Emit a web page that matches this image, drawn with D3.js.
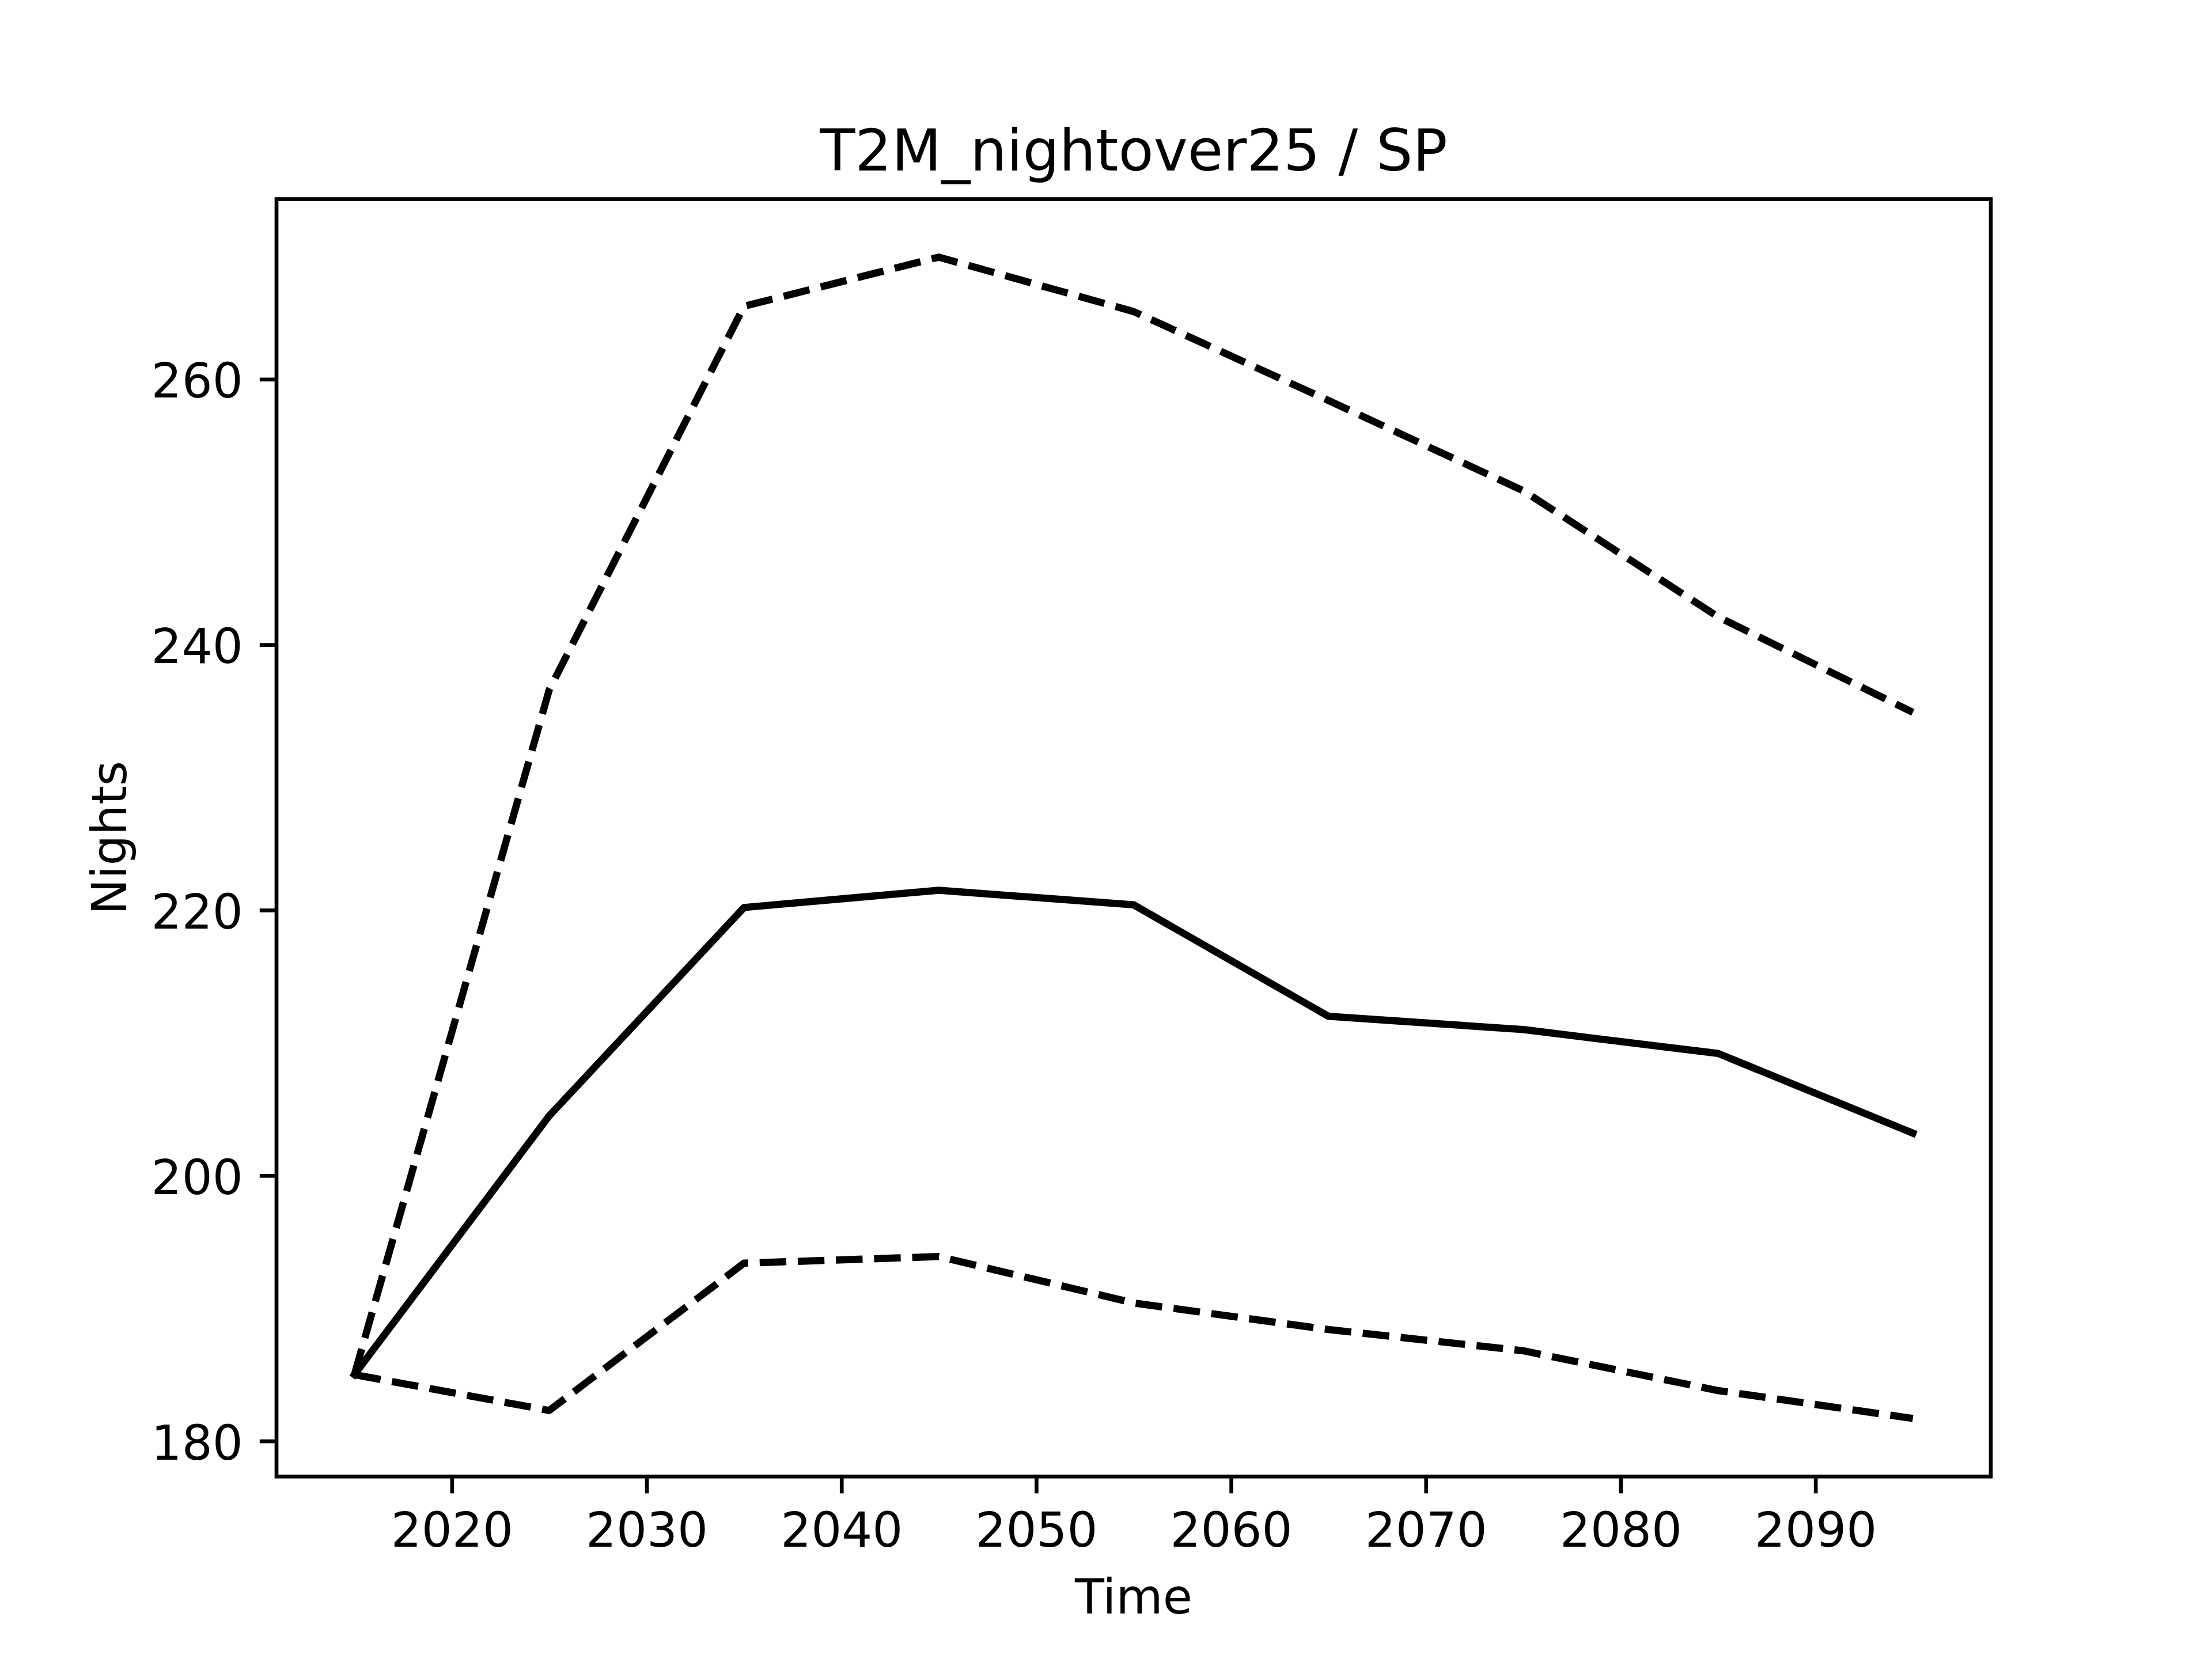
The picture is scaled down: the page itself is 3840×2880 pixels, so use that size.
<!DOCTYPE html>
<html>
<head>
<meta charset="utf-8">
<script src="https://cdn.jsdelivr.net/npm/d3@7"></script>
<style>
  html, body { margin: 0; padding: 0; background: #fff; }
  svg { display: block; }
  text { font-family: "DejaVu Sans", sans-serif; fill: #000; }
</style>
</head>
<body>
<script>
// ---- data ----
const years = [2015, 2025, 2035, 2045, 2055, 2065, 2075, 2085, 2095];
const meanValues  = [185.0, 204.5, 220.2, 221.5, 220.4, 212.0, 211.0, 209.2, 203.2];
const upperValues = [185.0, 236.6, 265.5, 269.2, 265.1, 258.4, 251.6, 242.1, 234.9];
const lowerValues = [185.0, 182.3, 193.4, 193.9, 190.4, 188.4, 186.8, 183.8, 181.7];
const xTicks = [2020, 2030, 2040, 2050, 2060, 2070, 2080, 2090];
const yTicks = [180, 200, 220, 240, 260];
const titleText = "T2M_nightover25 / SP";
const xLabelText = "Time";
const yLabelText = "Nights";

// ---- layout (matplotlib default figure 6.4x4.8 @ 600 dpi) ----
const W = 3840, H = 2880;
const pt = 600 / 72;
const axLeft = 0.125 * W, axRight = 0.9 * W;
const axTop = (1 - 0.88) * H, axBottom = (1 - 0.11) * H;
const fs = 10 * pt, titleFs = 12 * pt;
const tickLen = 3.5 * pt, tickPad = 3.5 * pt, spineW = 0.8 * pt;
const lw = 1.5 * pt;

const svg = d3.select("body").append("svg")
  .attr("width", W).attr("height", H)
  .attr("viewBox", `0 0 ${W} ${H}`);
svg.append("rect").attr("width", W).attr("height", H).attr("fill", "#fff");

// auto-limits with 5% margins like matplotlib
function padExtent(arr) {
  const lo = d3.min(arr), hi = d3.max(arr), m = (hi - lo) * 0.05;
  return [lo - m, hi + m];
}
const xDom = padExtent(years);
const yDom = padExtent(upperValues.concat(meanValues, lowerValues));

const x = d3.scaleLinear().domain(xDom).range([axLeft, axRight]);
const y = d3.scaleLinear().domain(yDom).range([axBottom, axTop]);

// clip
svg.append("defs").append("clipPath").attr("id", "clip")
  .append("rect").attr("x", axLeft).attr("y", axTop)
  .attr("width", axRight - axLeft).attr("height", axBottom - axTop);

const line = d3.line().x(d => x(d[0])).y(d => y(d[1]));
const plotG = svg.append("g").attr("clip-path", "url(#clip)");

function drawSeries(vals, dashed) {
  plotG.append("path")
    .datum(years.map((yr, i) => [yr, vals[i]]))
    .attr("d", line)
    .attr("fill", "none")
    .attr("stroke", "#000")
    .attr("stroke-width", lw)
    .attr("stroke-linejoin", "round")
    .attr("stroke-linecap", dashed ? "butt" : "square")
    .attr("stroke-dasharray", dashed ? `${3.7 * 1.5 * pt},${1.6 * 1.5 * pt}` : null);
}
drawSeries(meanValues, false);
drawSeries(upperValues, true);
drawSeries(lowerValues, true);

// axes
const xAxis = d3.axisBottom(x).tickValues(xTicks).tickFormat(d3.format("d"))
  .tickSize(tickLen).tickSizeOuter(0);
const gx = svg.append("g").attr("transform", `translate(0,${axBottom})`).call(xAxis);
gx.select(".domain").remove();
gx.selectAll(".tick line").attr("stroke", "#000").attr("stroke-width", spineW);
gx.selectAll(".tick text")
  .attr("y", tickLen + tickPad).attr("dy", 0.76 * fs)
  .attr("font-size", fs).attr("font-family", "DejaVu Sans").attr("fill", "#000");

const yAxis = d3.axisLeft(y).tickValues(yTicks).tickFormat(d3.format("d"))
  .tickSize(tickLen).tickSizeOuter(0);
const gy = svg.append("g").attr("transform", `translate(${axLeft},0)`).call(yAxis);
gy.select(".domain").remove();
gy.selectAll(".tick line").attr("stroke", "#000").attr("stroke-width", spineW);
gy.selectAll(".tick text")
  .attr("x", -(tickLen + tickPad)).attr("dy", 0.378 * fs)
  .attr("font-size", fs).attr("font-family", "DejaVu Sans").attr("fill", "#000");

// frame (spines)
svg.append("rect")
  .attr("x", axLeft).attr("y", axTop)
  .attr("width", axRight - axLeft).attr("height", axBottom - axTop)
  .attr("fill", "none").attr("stroke", "#000").attr("stroke-width", spineW);

// labels
svg.append("text")
  .attr("x", (axLeft + axRight) / 2).attr("y", axTop - 6 * pt)
  .attr("text-anchor", "middle").attr("font-size", titleFs)
  .text(titleText);

svg.append("text")
  .attr("x", (axLeft + axRight) / 2)
  .attr("y", axBottom + tickLen + tickPad + 0.99 * fs + 4 * pt + 0.76 * fs)
  .attr("text-anchor", "middle").attr("font-size", fs)
  .text(xLabelText);

svg.append("text")
  .attr("transform", `translate(219,${(axTop + axBottom) / 2}) rotate(-90)`)
  .attr("text-anchor", "middle").attr("font-size", fs)
  .text(yLabelText);
</script>
</body>
</html>
